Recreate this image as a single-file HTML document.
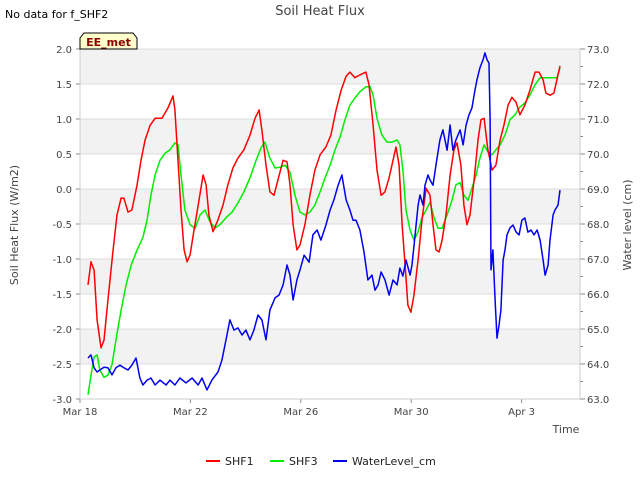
<!DOCTYPE html>
<html><head><meta charset="utf-8"><style>
body{margin:0;background:#fff;font-family:"Liberation Sans","DejaVu Sans",sans-serif;}
svg text{font-family:"DejaVu Sans","Liberation Sans",sans-serif;}
</style></head><body>
<svg id="chart" width="640" height="480" viewBox="0 0 640 480" xmlns="http://www.w3.org/2000/svg">
<rect width="640" height="480" fill="#fff"/>
<g id="bands"></g>
<g id="grid"></g>
<g id="series"></g>
<g id="axes"></g>
<text x="320" y="15" text-anchor="middle" font-size="13" fill="#444">Soil Heat Flux</text>
<text x="5" y="18" font-size="11" fill="#000">No data for f_SHF2</text>
<g>
<path d="M80,49 L80,38 L84,33 L133,33 L137,38 L137,49 Z" fill="#ffffcc" stroke="#000" stroke-width="1"/>
<text x="108.5" y="46" text-anchor="middle" font-size="11" font-weight="bold" fill="#8b0000">EE_met</text>
</g>
<text transform="translate(18,225) rotate(-90)" text-anchor="middle" font-size="11" fill="#444">Soil Heat Flux (W/m2)</text>
<text transform="translate(631,225) rotate(-90)" text-anchor="middle" font-size="11" fill="#444">Water level (cm)</text>
<text x="566" y="433" text-anchor="middle" font-size="11" fill="#444">Time</text>
<g id="legend"></g>
</svg>
<script>
const xTickLabels=["Mar 18","Mar 22","Mar 26","Mar 30","Apr 3"];
const xTickDays=[0,4,8,12,16];
const yTicks=[-3.0,-2.5,-2.0,-1.5,-1.0,-0.5,0.0,0.5,1.0,1.5,2.0];
const y2Ticks=[63,64,65,66,67,68,69,70,71,72,73];
const shf1Days=[0.29,0.40,0.51,0.62,0.76,0.87,1.01,1.20,1.34,1.49,1.59,1.74,1.88,2.07,2.21,2.36,2.54,2.72,2.97,3.19,3.37,3.44,3.55,3.66,3.77,3.88,3.99,4.13,4.31,4.46,4.57,4.67,4.82,5.00,5.18,5.36,5.54,5.72,5.94,6.16,6.34,6.49,6.59,6.74,6.88,7.03,7.17,7.36,7.50,7.61,7.72,7.86,7.97,8.15,8.33,8.51,8.70,8.91,9.09,9.28,9.46,9.64,9.78,9.96,10.14,10.36,10.47,10.62,10.76,10.91,11.05,11.20,11.34,11.45,11.56,11.67,11.78,11.88,11.99,12.10,12.25,12.39,12.54,12.68,12.79,12.90,13.01,13.12,13.26,13.41,13.55,13.66,13.80,13.91,14.02,14.13,14.28,14.42,14.53,14.64,14.78,14.93,15.07,15.22,15.36,15.51,15.65,15.80,15.94,16.12,16.30,16.49,16.63,16.78,16.88,17.03,17.17,17.28,17.39];
const shf1Values=[-1.37,-1.04,-1.16,-1.87,-2.27,-2.16,-1.59,-0.87,-0.37,-0.13,-0.13,-0.33,-0.30,0.06,0.41,0.70,0.91,1.01,1.01,1.16,1.33,1.13,0.41,-0.30,-0.87,-1.04,-0.94,-0.59,-0.16,0.20,0.06,-0.37,-0.61,-0.44,-0.23,0.06,0.30,0.44,0.56,0.77,1.01,1.13,0.84,0.34,-0.04,-0.09,0.13,0.41,0.39,0.06,-0.51,-0.87,-0.80,-0.51,-0.09,0.27,0.49,0.60,0.77,1.13,1.41,1.61,1.67,1.59,1.63,1.67,1.49,0.91,0.27,-0.09,-0.04,0.16,0.41,0.60,0.34,-0.51,-1.09,-1.66,-1.76,-1.51,-1.01,-0.44,0.01,-0.09,-0.51,-0.87,-0.90,-0.73,-0.37,0.20,0.56,0.66,0.34,-0.23,-0.51,-0.37,0.13,0.70,0.99,1.01,0.56,0.27,0.34,0.70,0.91,1.20,1.31,1.24,1.06,1.20,1.41,1.67,1.67,1.56,1.37,1.34,1.37,1.56,1.76];
const shf3Days=[0.29,0.40,0.51,0.62,0.72,0.87,1.01,1.16,1.30,1.49,1.67,1.85,2.07,2.28,2.43,2.57,2.72,2.90,3.08,3.26,3.44,3.55,3.66,3.80,3.99,4.17,4.35,4.53,4.71,4.89,5.07,5.29,5.51,5.72,5.94,6.16,6.38,6.56,6.70,6.88,7.07,7.25,7.43,7.61,7.79,7.97,8.15,8.33,8.51,8.70,8.88,9.06,9.24,9.42,9.60,9.78,9.96,10.14,10.36,10.51,10.62,10.76,10.94,11.12,11.30,11.49,11.59,11.70,11.81,11.96,12.10,12.25,12.39,12.54,12.68,12.83,12.97,13.12,13.30,13.48,13.62,13.77,13.91,14.06,14.20,14.35,14.49,14.64,14.78,14.93,15.07,15.22,15.40,15.58,15.76,15.94,16.12,16.30,16.49,16.67,16.96,17.28,17.39];
const shf3Values=[-2.94,-2.66,-2.40,-2.37,-2.59,-2.69,-2.66,-2.51,-2.16,-1.73,-1.37,-1.09,-0.87,-0.69,-0.44,-0.09,0.20,0.41,0.51,0.56,0.66,0.63,0.20,-0.30,-0.51,-0.56,-0.37,-0.30,-0.47,-0.56,-0.51,-0.41,-0.33,-0.20,-0.04,0.16,0.41,0.59,0.67,0.44,0.30,0.31,0.34,0.24,-0.09,-0.33,-0.37,-0.33,-0.23,-0.04,0.16,0.34,0.56,0.74,0.99,1.20,1.30,1.39,1.46,1.46,1.34,1.01,0.77,0.67,0.67,0.70,0.63,0.27,-0.30,-0.59,-0.73,-0.61,-0.41,-0.30,-0.19,-0.41,-0.56,-0.56,-0.37,-0.16,0.06,0.09,-0.09,-0.16,0.01,0.20,0.44,0.63,0.53,0.49,0.56,0.63,0.77,0.99,1.06,1.17,1.23,1.34,1.49,1.59,1.59,1.59,1.73];
const waterDays=[0.29,0.40,0.51,0.62,0.72,0.87,1.01,1.16,1.30,1.45,1.59,1.74,1.88,2.03,2.17,2.28,2.43,2.57,2.72,2.90,3.12,3.26,3.44,3.62,3.84,4.06,4.28,4.42,4.60,4.78,5.00,5.14,5.29,5.43,5.58,5.72,5.87,6.01,6.16,6.30,6.45,6.59,6.74,6.88,7.07,7.21,7.36,7.50,7.61,7.72,7.86,7.97,8.12,8.30,8.44,8.59,8.73,8.91,9.06,9.20,9.35,9.49,9.64,9.78,9.89,10.0,10.14,10.29,10.43,10.58,10.69,10.80,10.91,11.05,11.20,11.34,11.49,11.59,11.70,11.81,11.96,12.03,12.14,12.25,12.32,12.43,12.50,12.61,12.68,12.79,12.90,13.04,13.15,13.30,13.41,13.51,13.62,13.77,13.88,13.99,14.09,14.20,14.31,14.38,14.49,14.60,14.67,14.75,14.82,14.86,14.89,14.96,15.04,15.11,15.18,15.25,15.33,15.40,15.47,15.58,15.69,15.80,15.91,16.01,16.12,16.23,16.34,16.45,16.56,16.67,16.78,16.85,16.96,17.03,17.14,17.21,17.32,17.39];
const waterValues=[64.17,64.26,63.89,63.77,63.83,63.91,63.89,63.69,63.89,63.97,63.89,63.83,63.97,64.17,63.60,63.40,63.54,63.60,63.40,63.54,63.40,63.54,63.40,63.60,63.46,63.60,63.40,63.60,63.26,63.54,63.77,64.11,64.69,65.26,64.97,65.03,64.83,64.97,64.69,64.97,65.40,65.26,64.69,65.54,65.89,65.97,66.26,66.83,66.54,65.83,66.40,66.69,67.11,66.91,67.69,67.83,67.54,67.97,68.40,68.69,69.11,69.40,68.69,68.40,68.11,68.11,67.83,67.20,66.40,66.54,66.11,66.26,66.63,66.40,65.97,66.40,66.26,66.74,66.51,66.97,66.54,66.83,67.69,68.54,68.83,68.54,69.11,69.40,69.26,69.11,69.69,70.40,70.69,70.11,70.83,70.11,70.40,70.69,70.26,70.83,71.11,71.31,71.83,72.11,72.46,72.69,72.89,72.69,72.60,70.97,66.69,67.26,65.83,64.74,65.11,65.54,66.97,67.26,67.69,67.89,67.97,67.77,67.69,68.11,68.17,67.77,67.83,67.69,67.83,67.54,66.97,66.54,66.83,67.54,68.26,68.40,68.54,68.97];

const NS="http://www.w3.org/2000/svg";
const L=80,R=580,T=49,B=399;
const xS=d=>L+d*27.6;
const yS=v=>B-(v-(-3))*(B-T)/5;
const y2S=v=>B-(v-63)*(B-T)/10;
function mk(tag,attrs,parent){const e=document.createElementNS(NS,tag);for(const k in attrs)e.setAttribute(k,attrs[k]);parent.appendChild(e);return e;}
const bands=document.getElementById('bands'),grid=document.getElementById('grid'),axes=document.getElementById('axes'),series=document.getElementById('series'),legend=document.getElementById('legend');
for(let i=0;i<yTicks.length-1;i++){
  if(i%2===1){const b=mk('rect',{x:L,y:yS(yTicks[i+1]),width:R-L,height:yS(yTicks[i])-yS(yTicks[i+1]),fill:'#f2f2f2'},bands);
  
  }
}
yTicks.forEach(v=>{
  const g=mk('line',{x1:L,x2:R,y1:yS(v),y2:yS(v),stroke:'#dcdcdc','stroke-width':1},grid);
  
  
  mk('line',{x1:L-4,x2:L,y1:yS(v),y2:yS(v),stroke:'#888'},axes);
  const t=mk('text',{x:L-8,y:yS(v)+4,'text-anchor':'end','font-size':10,fill:'#444'},axes);
  t.textContent=v.toFixed(1);
  
  
});
y2Ticks.forEach((v,i)=>{
  mk('line',{x1:R,x2:R+5,y1:y2S(v),y2:y2S(v),stroke:'#888'},axes);
  if(i<y2Ticks.length-1)mk('line',{x1:R,x2:R+3,y1:y2S(v+0.5),y2:y2S(v+0.5),stroke:'#888'},axes);
  const t=mk('text',{x:R+7,y:y2S(v)+4,'font-size':10,fill:'#444'},axes);
  t.textContent=v.toFixed(1);
  
  
});
xTickDays.forEach((d,i)=>{
  mk('line',{x1:xS(d),x2:xS(d),y1:B,y2:B+4,stroke:'#888'},axes);
  const t=mk('text',{x:xS(d),y:B+16,'text-anchor':'middle','font-size':10,fill:'#444'},axes);
  t.textContent=xTickLabels[i];
  
  
});
mk('line',{x1:L,x2:L,y1:T,y2:B,stroke:'#ccc'},axes);
mk('line',{x1:R,x2:R,y1:T,y2:B,stroke:'#ccc'},axes);
mk('line',{x1:L,x2:R,y1:B,y2:B,stroke:'#ccc'},axes);
function line(days,vals,sc,color,name){
  const p=mk('polyline',{points:days.map((d,i)=>xS(d).toFixed(1)+','+sc(vals[i]).toFixed(1)).join(' '),fill:'none',stroke:color,'stroke-width':1.5,'stroke-linejoin':'round'},series);
  
  
}
line(shf3Days,shf3Values,yS,'#00ee00','shf3-line');
line(shf1Days,shf1Values,yS,'#ff0000','shf1-line');
line(waterDays,waterValues,y2S,'#0000ee','water-level-line');
[['SHF1','#ff0000',206],['SHF3','#00ee00',270],['WaterLevel_cm','#0000ee',333]].forEach(([n,c,x])=>{
  const g=mk('g',{},legend);
  
  
  mk('line',{x1:x,x2:x+14,y1:461,y2:461,stroke:c,'stroke-width':2},g);
  const t=mk('text',{x:x+19,y:465,'font-size':11,fill:'#222'},g);t.textContent=n;
});
</script>
</body></html>
